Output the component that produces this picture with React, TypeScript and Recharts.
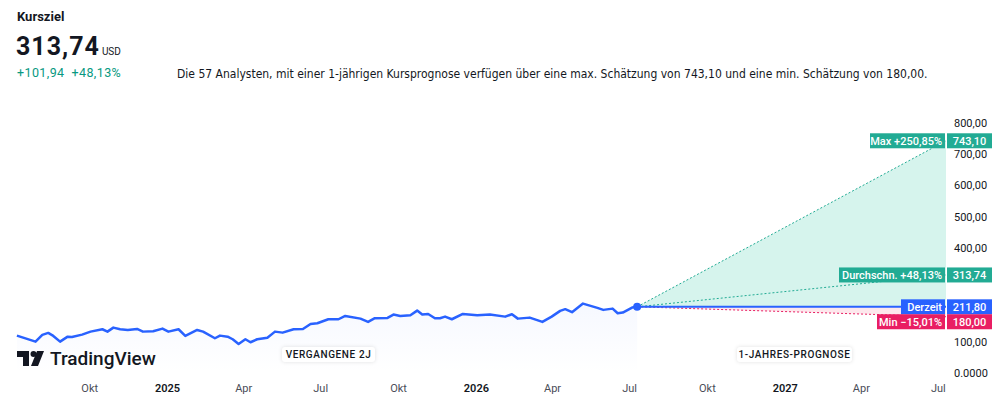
import {
  Area,
  ComposedChart,
  Line,
  ReferenceDot,
  ReferenceLine,
  XAxis,
  YAxis,
} from "recharts";

// Kursverlauf der letzten 2 Jahre
const pastDates = [
  "2024-07-07", "2024-07-29", "2024-08-06", "2024-08-13", "2024-08-19", "2024-08-27",
  "2024-09-05", "2024-09-10", "2024-09-22", "2024-10-02", "2024-10-16", "2024-10-22",
  "2024-10-29", "2024-11-06", "2024-11-15", "2024-11-26", "2024-12-03", "2024-12-15",
  "2024-12-26", "2025-01-02", "2025-01-14", "2025-01-22", "2025-02-05", "2025-02-12",
  "2025-02-26", "2025-03-04", "2025-03-13", "2025-03-19", "2025-03-26", "2025-04-03",
  "2025-04-09", "2025-04-17", "2025-04-29", "2025-05-08", "2025-05-17", "2025-05-30",
  "2025-06-10", "2025-06-19", "2025-06-27", "2025-07-10", "2025-07-22", "2025-07-30",
  "2025-08-17", "2025-08-26", "2025-09-03", "2025-09-18", "2025-09-25", "2025-10-03",
  "2025-10-15", "2025-10-23", "2025-10-29", "2025-11-05", "2025-11-13", "2025-11-19",
  "2025-11-25", "2025-12-03", "2025-12-16", "2026-01-02", "2026-01-17", "2026-02-04",
  "2026-02-12", "2026-02-19", "2026-03-05", "2026-03-20", "2026-03-31", "2026-04-10",
  "2026-04-16", "2026-04-24", "2026-05-07", "2026-05-24", "2026-05-31", "2026-06-11",
  "2026-06-17", "2026-06-23", "2026-07-04", "2026-07-10",
];
const pastPrices = [
  119.6, 100.3, 121.8, 128.2, 118.6, 100.3,
  116.3, 115.4, 122.8, 132.4, 140.0, 132.4,
  145.2, 140.0, 137.8, 141.0, 132.4, 133.7,
  142.0, 132.4, 140.0, 118.6, 137.8, 132.4,
  111.2, 119.6, 116.3, 108.0, 93.0, 108.0,
  98.4, 108.0, 113.1, 132.4, 129.2, 140.0,
  141.0, 157.0, 159.3, 172.0, 172.0, 182.7,
  174.0, 163.5, 175.3, 176.3, 186.9, 182.7,
  185.0, 199.7, 186.9, 189.0, 175.3, 175.3,
  180.4, 172.0, 189.0, 185.0, 186.9, 180.4,
  188.1, 174.0, 177.2, 163.5, 180.4, 198.7,
  204.2, 194.6, 222.1, 208.3, 202.0, 206.0,
  191.3, 193.3, 209.3, 211.8,
];

// Prognose
const currentPrice = 211.8;
const maxTarget = 743.1;
const avgTarget = 313.74;
const minTarget = 180.0;
const forecastEnd = "2027-07-10";
const axisStart = "2024-06-17";

const xTickDates = [
  "2024-10-01", "2025-01-01", "2025-04-01", "2025-07-01", "2025-10-01", "2026-01-01",
  "2026-04-01", "2026-07-01", "2026-10-01", "2027-01-01", "2027-04-01", "2027-07-01",
];
const xTickLabels = ["Okt", "2025", "Apr", "Jul", "Okt", "2026", "Apr", "Jul", "Okt", "2027", "Apr", "Jul"];
const yTicks = [0, 100, 400, 500, 600, 700, 800];

const ts = (d: string) => new Date(d).getTime();
const lastT = ts(pastDates[pastDates.length - 1]);
const endT = ts(forecastEnd);

const data: any[] = pastDates.map((d, i) => ({ t: ts(d), price: pastPrices[i] }));
Object.assign(data[data.length - 1], {
  max: currentPrice,
  avg: currentPrice,
  min: currentPrice,
  cur: currentPrice,
  up: [currentPrice, currentPrice],
  down: [currentPrice, currentPrice],
});
data.push({
  t: endT,
  max: maxTarget,
  avg: avgTarget,
  min: minTarget,
  cur: currentPrice,
  up: [currentPrice, maxTarget],
  down: [minTarget, currentPrice],
});

const de = (v: number) => v.toFixed(2).replace(".", ",");
const pct = (v: number) => {
  const p = (v / currentPrice - 1) * 100;
  return (p >= 0 ? "+" : "\u2212") + de(Math.abs(p)) + "%";
};

const FONT = "Roboto, 'Noto Sans', sans-serif";
const GREEN = "#22ab94";
const BLUE = "#2962ff";
const PINK = "#e91e63";

const tickLabel = (v: number) => {
  const i = xTickDates.findIndex((d) => ts(d) === v);
  return i >= 0 ? xTickLabels[i] : "";
};

const XTick = ({ x, y, payload }: any) => {
  const lab = tickLabel(payload.value);
  const year = /^\d{4}$/.test(lab);
  return (
    <text
      x={x}
      y={y}
      dy={11}
      textAnchor="middle"
      fontSize={11}
      fontFamily={FONT}
      fontWeight={year ? 600 : 400}
      fill={year ? "#131722" : "#4a4d57"}
    >
      {lab}
    </text>
  );
};

const badge = (
  viewBox: any,
  text: string,
  value: string,
  color: string,
  labelW: number,
  shift = 0
) => {
  const right = viewBox.x + viewBox.width;
  const cy = viewBox.y + shift;
  const h = 15;
  return (
    <g>
      <rect x={right - labelW} y={cy - h / 2} width={labelW - 1} height={h} fill={color} />
      <text
        x={right - 4}
        y={cy}
        dy="0.36em"
        textAnchor="end"
        fontSize={11}
        fontFamily={FONT}
        fontWeight={500}
        fill="#fff"
      >
        {text}
      </text>
      <rect x={right + 1} y={cy - h / 2} width={45} height={h} fill={color} />
      <text
        x={right + 23.5}
        y={cy}
        dy="0.36em"
        textAnchor="middle"
        fontSize={11}
        fontFamily={FONT}
        fontWeight={500}
        fill="#fff"
      >
        {value}
      </text>
    </g>
  );
};

const pill: React.CSSProperties = {
  position: "absolute",
  top: 347,
  height: 15,
  lineHeight: "15px",
  background: "#fff",
  borderRadius: 3,
  boxShadow: "0 0 4px rgba(0,0,0,0.12)",
  fontSize: 10,
  letterSpacing: 0.6,
  fontWeight: 500,
  color: "#131722",
  textAlign: "center",
  fontFamily: FONT,
};

export default function App() {
  return (
    <div
      style={{
        position: "absolute",
        left: 0,
        top: 0,
        width: 1000,
        height: 404,
        background: "#fff",
        overflow: "hidden",
        fontFamily: FONT,
      }}
    >
      <ComposedChart
        width={1000}
        height={404}
        data={data}
        margin={{ top: 123, right: 0, left: 0, bottom: 0 }}
      >
        <defs>
          <linearGradient id="pastFill" x1="0" y1="0" x2="0" y2="1">
            <stop offset="0%" stopColor={BLUE} stopOpacity={0.07} />
            <stop offset="100%" stopColor={BLUE} stopOpacity={0} />
          </linearGradient>
        </defs>
        <XAxis
          dataKey="t"
          type="number"
          scale="time"
          domain={[ts(axisStart), endT]}
          ticks={xTickDates.map(ts)}
          tick={<XTick />}
          axisLine={false}
          tickLine={false}
          height={31}
          interval={0}
        />
        <YAxis
          orientation="right"
          width={54}
          domain={[0, 800]}
          ticks={yTicks}
          interval={0}
          axisLine={false}
          tickLine={false}
          tick={{ fontSize: 11, fill: "#131722", fontFamily: FONT }}
          tickFormatter={(v: number) => (v === 0 ? "0.0000" : de(v))}
        />
        <Area
          dataKey="price"
          stroke="none"
          fill="url(#pastFill)"
          isAnimationActive={false}
        />
        <Area
          dataKey="up"
          stroke="none"
          fill="rgb(38,198,160)"
          fillOpacity={0.19}
          isAnimationActive={false}
        />
        <Area
          dataKey="down"
          stroke="none"
          fill="rgb(242,54,100)"
          fillOpacity={0.12}
          isAnimationActive={false}
        />
        <Line
          dataKey="max"
          stroke={GREEN}
          strokeWidth={1}
          strokeDasharray="2 2"
          dot={false}
          isAnimationActive={false}
        />
        <Line
          dataKey="avg"
          stroke={GREEN}
          strokeWidth={1}
          strokeDasharray="2 2"
          dot={false}
          isAnimationActive={false}
        />
        <Line
          dataKey="min"
          stroke={PINK}
          strokeWidth={1}
          strokeDasharray="2 2"
          dot={false}
          isAnimationActive={false}
        />
        <Line
          dataKey="cur"
          stroke={BLUE}
          strokeWidth={2}
          dot={false}
          isAnimationActive={false}
        />
        <Line
          dataKey="price"
          stroke={BLUE}
          strokeWidth={2.5}
          strokeLinejoin="round"
          dot={false}
          isAnimationActive={false}
        />
        <ReferenceDot x={lastT} y={currentPrice} r={4} fill={BLUE} stroke="none" />
        <ReferenceLine
          y={maxTarget}
          stroke="none"
          label={(p: any) => badge(p.viewBox, "Max " + pct(maxTarget), de(maxTarget), GREEN, 76)}
        />
        <ReferenceLine
          y={avgTarget}
          stroke="none"
          label={(p: any) =>
            badge(p.viewBox, "Durchschn. " + pct(avgTarget), de(avgTarget), GREEN, 107)
          }
        />
        <ReferenceLine
          y={currentPrice}
          stroke="none"
          label={(p: any) => badge(p.viewBox, "Derzeit", de(currentPrice), BLUE, 45)}
        />
        <ReferenceLine
          y={minTarget}
          stroke="none"
          label={(p: any) => badge(p.viewBox, "Min " + pct(minTarget), de(minTarget), PINK, 69, 5)}
        />
      </ComposedChart>

      <div style={{ position: "absolute", left: 17, top: 9, fontSize: 13, fontWeight: 700, color: "#131722" }}>
        Kursziel
      </div>
      <div style={{ position: "absolute", left: 16, top: 32, color: "#131722", whiteSpace: "nowrap" }}>
        <span style={{ fontSize: 25, fontWeight: 700, letterSpacing: 1 }}>{de(avgTarget)}</span>
        <span style={{ fontSize: 10, marginLeft: 2 }}>USD</span>
      </div>
      <div
        style={{
          position: "absolute",
          left: 17,
          top: 65,
          fontSize: 12.5,
          letterSpacing: 0.4,
          color: "#089981",
          whiteSpace: "nowrap",
        }}
      >
        +{de(avgTarget - currentPrice)}&nbsp;&nbsp;{pct(avgTarget)}
      </div>
      <div
        style={{
          position: "absolute",
          left: 177,
          top: 67,
          fontSize: 12,
          color: "#131722",
          whiteSpace: "nowrap",
          fontFamily: "'Liberation Sans Narrow', 'DejaVu Sans Condensed', Roboto, sans-serif",
        }}
      >
        Die 57 Analysten, mit einer 1-jährigen Kursprognose verfügen über eine max. Schätzung von{" "}
        {de(maxTarget)} und eine min. Schätzung von {de(minTarget)}.
      </div>

      <div style={{ position: "absolute", left: 17, top: 349, display: "flex", alignItems: "center" }}>
        <svg width={27} height={15} viewBox="0 0 27 15">
          <path d="M0 0 H12 V15 H6 V6 H0 Z" fill="#131722" />
          <circle cx={16.5} cy={3} r={3} fill="#131722" />
          <path d="M20 0 H27 L21 15 H14 Z" fill="#131722" />
        </svg>
        <span style={{ marginLeft: 6, fontSize: 19, fontWeight: 500, color: "#131722", lineHeight: "19px" }}>
          TradingView
        </span>
      </div>

      <div style={{ ...pill, left: 282, width: 93 }}>VERGANGENE 2J</div>
      <div style={{ ...pill, left: 737, width: 115 }}>1-JAHRES-PROGNOSE</div>
    </div>
  );
}
